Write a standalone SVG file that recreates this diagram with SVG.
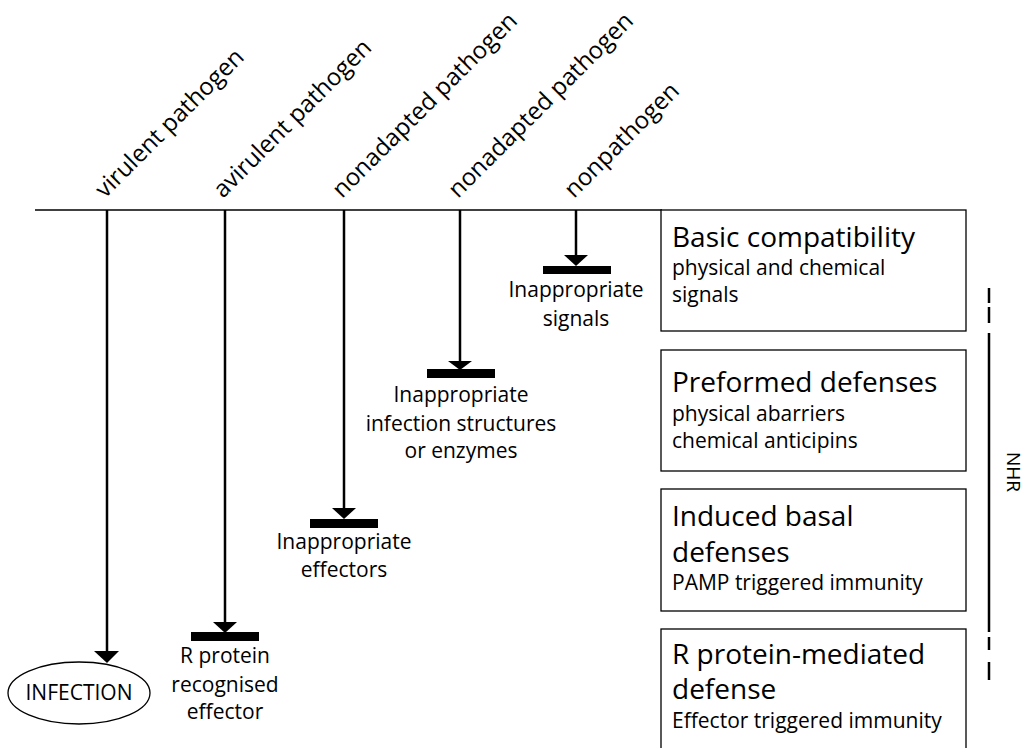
<svg xmlns="http://www.w3.org/2000/svg" width="1028" height="748" viewBox="0 0 1028 748">
<style>
text{font-family:"Open Sans","Liberation Sans",sans-serif;fill:#000}
.lbl{font-size:24px}
.ttl{font-size:28px}
.sub{font-size:21px}
.sm{font-size:21px;text-anchor:middle}
.box{fill:#fff;stroke:#000;stroke-width:1.3}
.conn{stroke:#000;stroke-width:2.5;fill:none}
.bar{fill:#000}
.tri{fill:#000}
.nhr{stroke:#000;stroke-width:2.5}
</style>
<rect width="1028" height="748" fill="#fff"/>
<g id="header">
<line x1="35" y1="210" x2="662" y2="210" stroke="#000" stroke-width="1.3"/>
<text class="lbl" x="105" y="199" transform="rotate(-45 105 199)">virulent pathogen</text>
<text class="lbl" x="223" y="199" transform="rotate(-45 223 199)">avirulent pathogen</text>
<text class="lbl" x="342" y="199" transform="rotate(-45 342 199)">nonadapted pathogen</text>
<text class="lbl" x="458" y="199" transform="rotate(-45 458 199)">nonadapted pathogen</text>
<text class="lbl" x="574" y="199" transform="rotate(-45 574 199)">nonpathogen</text>
</g>
<g id="connectors">
<line class="conn" x1="107" y1="210" x2="107" y2="652"/>
<polygon class="tri" points="94,651 119,651 107,663"/>
<line class="conn" x1="225" y1="210" x2="225" y2="623"/>
<polygon class="tri" points="213,622 237,622 225,633"/>
<rect class="bar" x="191" y="632" width="68" height="9"/>
<line class="conn" x1="344" y1="210" x2="344" y2="509"/>
<polygon class="tri" points="332,508 356,508 344,519"/>
<rect class="bar" x="310" y="519" width="68" height="9"/>
<line class="conn" x1="460" y1="210" x2="460" y2="362"/>
<polygon class="tri" points="448,361 472,361 460,370"/>
<rect class="bar" x="427" y="369" width="68" height="9"/>
<line class="conn" x1="576" y1="210" x2="576" y2="256"/>
<polygon class="tri" points="564,255 588,255 576,266"/>
<rect class="bar" x="543" y="266" width="68" height="8"/>
</g>
<g id="infection">
<ellipse cx="79" cy="693" rx="71" ry="31" fill="#fff" stroke="#000" stroke-width="1.3"/>
<text class="sm" x="79" y="700">INFECTION</text>
</g>
<g id="r-protein-label">
<text class="sm" x="225" y="663">R protein</text>
<text class="sm" x="225" y="692">recognised</text>
<text class="sm" x="225" y="719">effector</text>
</g>
<g id="effectors-label">
<text class="sm" x="344" y="549">Inappropriate</text>
<text class="sm" x="344" y="577">effectors</text>
</g>
<g id="structures-label">
<text class="sm" x="461" y="402">Inappropriate</text>
<text class="sm" x="461" y="431">infection structures</text>
<text class="sm" x="461" y="458">or enzymes</text>
</g>
<g id="signals-label">
<text class="sm" x="576" y="297">Inappropriate</text>
<text class="sm" x="576" y="326">signals</text>
</g>
<g id="basic">
<rect class="box" x="661" y="210" width="305" height="121"/>
<text class="ttl" x="672" y="247">Basic compatibility</text>
<text class="sub" x="672" y="275">physical and chemical</text>
<text class="sub" x="672" y="302">signals</text>
</g>
<g id="preformed">
<rect class="box" x="661" y="350" width="305" height="121"/>
<text class="ttl" x="672" y="392">Preformed defenses</text>
<text class="sub" x="672" y="421">physical abarriers</text>
<text class="sub" x="672" y="448">chemical anticipins</text>
</g>
<g id="induced">
<rect class="box" x="661" y="489" width="305" height="122"/>
<text class="ttl" x="672" y="526">Induced basal</text>
<text class="ttl" x="672" y="562">defenses</text>
<text class="sub" x="672" y="590">PAMP triggered immunity</text>
</g>
<g id="rprotein">
<rect class="box" x="661" y="629" width="305" height="130"/>
<text class="ttl" x="672" y="664">R protein-mediated</text>
<text class="ttl" x="672" y="699">defense</text>
<text class="sub" x="672" y="728">Effector triggered immunity</text>
</g>
<g id="nhr">
<line class="nhr" x1="989" y1="288" x2="989" y2="303"/>
<line class="nhr" x1="989" y1="307" x2="989" y2="323"/>
<line class="nhr" x1="989" y1="333" x2="989" y2="632"/>
<line class="nhr" x1="989" y1="637" x2="989" y2="650"/>
<line class="nhr" x1="989" y1="662" x2="989" y2="680"/>
<text x="1007" y="472" font-size="19" text-anchor="middle" transform="rotate(90 1007 472)">NHR</text>
</g>
</svg>
